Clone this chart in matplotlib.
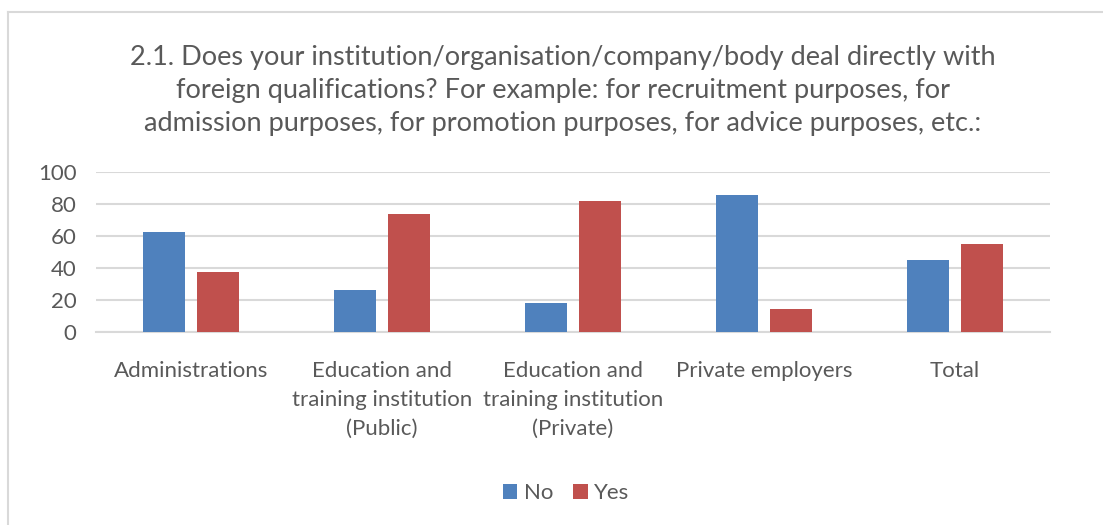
import numpy as np
import matplotlib.pyplot as plt
from matplotlib.lines import Line2D

categories = ['Administrations', 'Education and\ntraining institution\n(Public)',
              'Education and\ntraining institution\n(Private)', 'Private employers', 'Total']
no_vals = [62.5, 26.5, 18.2, 85.8, 45.0]
yes_vals = [37.5, 73.5, 81.8, 14.2, 55.0]
series = ['No', 'Yes']
yticks = [0, 20, 40, 60, 80, 100]
title = ('2.1. Does your institution/organisation/company/body deal directly with\n'
         'foreign qualifications? For example: for recruitment purposes, for\n'
         'admission purposes, for promotion purposes, for advice purposes, etc.:')

plt.rcParams['font.family'] = ['Lato', 'DejaVu Sans']
grey = '#595959'

W, H = 1103, 525
fig = plt.figure(figsize=(W / 100, H / 100), dpi=100)
ax = fig.add_axes([96 / W, 1 - 332 / H, (1050 - 96) / W, 160 / H])

x = np.arange(len(categories))
off = 0.1415
bw = 0.22
ax.bar(x - off, no_vals, bw, color='#4F81BD', label=series[0], zorder=3)
ax.bar(x + off, yes_vals, bw, color='#C0504D', label=series[1], zorder=3)

ax.set_xlim(-0.5, len(categories) - 0.5)
ax.set_ylim(0, 100)
ax.set_yticks(yticks)
ax.set_xticks(x)
ax.set_xticklabels(categories, fontsize=16, color=grey, linespacing=1.55)
ax.tick_params(axis='y', labelsize=16, labelcolor=grey, length=0, pad=14)
ax.tick_params(axis='x', length=0, pad=21)
ax.grid(axis='y', color='#D9D9D9', linewidth=1.5, zorder=0)
for s in ['top', 'right', 'left']:
    ax.spines[s].set_visible(False)
ax.spines['bottom'].set_color('#D9D9D9')
ax.spines['bottom'].set_linewidth(1.5)

fig.text(563 / W, 1 - 90 / H, title, ha='center', va='center', fontsize=19.5,
         color=grey, linespacing=1.4)

leg = fig.legend(loc='center', bbox_to_anchor=(566 / W, 1 - 493 / H), ncol=2,
                 frameon=False, fontsize=16, handlelength=0.65, handleheight=0.65,
                 columnspacing=0.9, handletextpad=0.3)
for t in leg.get_texts():
    t.set_color(grey)

# outer chart border (only top and left edges visible)
fig.add_artist(Line2D([8 / W, 1], [1 - 12 / H, 1 - 12 / H], color='#D9D9D9', lw=1.5))
fig.add_artist(Line2D([8 / W, 8 / W], [0, 1 - 12 / H], color='#D9D9D9', lw=1.5))

fig.savefig('out.png', dpi=100)
